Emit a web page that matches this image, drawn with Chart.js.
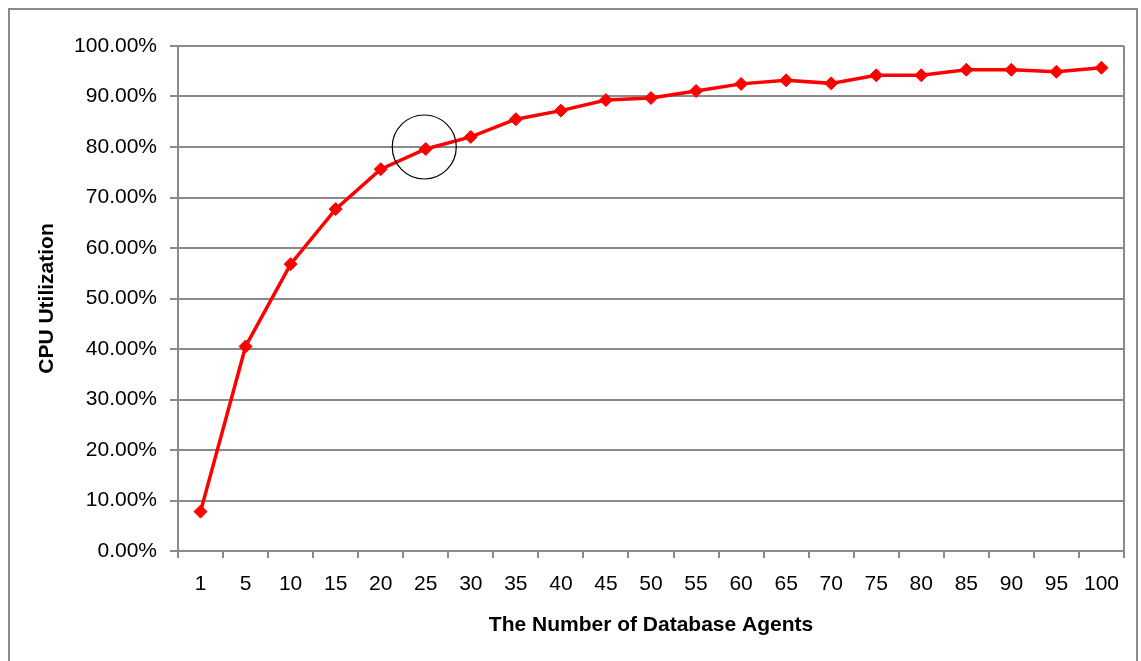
<!DOCTYPE html>
<html>
<head>
<meta charset="utf-8">
<title>CPU Utilization vs Database Agents</title>
<script src="https://cdn.jsdelivr.net/npm/chart.js@4/dist/chart.umd.min.js"></script>
<style>
  html, body { margin: 0; padding: 0; background: #ffffff; }
  canvas { display: block; }
</style>
</head>
<body>
<canvas id="cpu" width="1141" height="661"></canvas>
<script>
// Number of database agents (category axis)
const agentCounts = ['1', '5', '10', '15', '20', '25', '30', '35', '40', '45', '50',
                     '55', '60', '65', '70', '75', '80', '85', '90', '95', '100'];

// Measured CPU utilization, in percent
const cpuUtilization = [7.8, 40.5, 56.8, 67.7, 75.6, 79.6, 82.0, 85.5, 87.2, 89.3, 89.7,
                        91.1, 92.5, 93.2, 92.6, 94.2, 94.2, 95.3, 95.3, 94.9, 95.7];

// Y axis range and step, in percent
const yMin = 0;
const yMax = 100;
const yStep = 10;

// Agent count whose point is highlighted with a circle
const highlightedAgents = '25';

const AXIS_GREY = '#8a8a8a';
const FONT_FAMILY = '"Liberation Sans", Arial, Helvetica, sans-serif';

// Outer frame and the right edge of the plot area
const framePlugin = {
  id: 'frame',
  afterDraw(chart) {
    const { ctx, chartArea } = chart;
    ctx.save();
    ctx.strokeStyle = AXIS_GREY;
    ctx.lineWidth = 2;
    ctx.beginPath();
    ctx.moveTo(chartArea.right, chartArea.top);
    ctx.lineTo(chartArea.right, chartArea.bottom);
    ctx.stroke();
    ctx.strokeRect(9, 9, 1128, 700);
    ctx.restore();
  }
};

// Circle marking the highlighted point
const highlightPlugin = {
  id: 'highlight',
  afterDatasetsDraw(chart) {
    const idx = agentCounts.indexOf(highlightedAgents);
    if (idx < 0) return;
    const x = chart.scales.x.getPixelForValue(idx);
    const y = chart.scales.y.getPixelForValue(cpuUtilization[idx]);
    const { ctx } = chart;
    ctx.save();
    ctx.strokeStyle = '#000000';
    ctx.lineWidth = 1.2;
    ctx.beginPath();
    ctx.arc(x - 1.5, y - 2, 32, 0, Math.PI * 2);
    ctx.stroke();
    ctx.restore();
  }
};

new Chart(document.getElementById('cpu'), {
  type: 'line',
  data: {
    labels: agentCounts,
    datasets: [{
      label: 'CPU Utilization',
      data: cpuUtilization,
      borderColor: '#ff0000',
      backgroundColor: '#ff0000',
      borderWidth: 3.5,
      pointStyle: 'rectRot',
      pointRadius: 6.5,
      pointBorderWidth: 1,
      pointBackgroundColor: '#ff0000',
      pointBorderColor: '#ff0000',
      tension: 0,
      fill: false
    }]
  },
  options: {
    responsive: false,
    animation: false,
    layout: { padding: { top: 46, right: 17, bottom: 0, left: 0 } },
    plugins: {
      legend: { display: false },
      tooltip: { enabled: false }
    },
    scales: {
      x: {
        type: 'category',
        offset: true,
        afterFit(scale) { scale.height = 110; },
        grid: {
          offset: true,
          drawOnChartArea: false,
          drawTicks: true,
          tickLength: 7,
          color: AXIS_GREY,
          lineWidth: 2
        },
        border: { display: true, color: AXIS_GREY, width: 2 },
        ticks: {
          color: '#000000',
          padding: 14,
          maxRotation: 0,
          autoSkip: false,
          font: { family: FONT_FAMILY, size: 21 }
        },
        title: {
          display: true,
          text: 'The Number of Database Agents',
          color: '#000000',
          padding: { top: 0, bottom: 23 },
          font: { family: FONT_FAMILY, size: 21, weight: 'bold' }
        }
      },
      y: {
        min: yMin,
        max: yMax,
        afterFit(scale) { scale.width = 178; },
        grid: {
          drawTicks: true,
          tickLength: 8,
          color: AXIS_GREY,
          lineWidth: 2
        },
        border: { display: true, color: AXIS_GREY, width: 2 },
        ticks: {
          stepSize: yStep,
          color: '#000000',
          padding: 13,
          font: { family: FONT_FAMILY, size: 21 },
          callback: (v) => v.toFixed(2) + '%'
        },
        title: {
          display: true,
          text: 'CPU Utilization',
          color: '#000000',
          padding: { top: 35, bottom: 0 },
          font: { family: FONT_FAMILY, size: 21, weight: 'bold' }
        }
      }
    }
  },
  plugins: [framePlugin, highlightPlugin]
});
</script>
</body>
</html>
